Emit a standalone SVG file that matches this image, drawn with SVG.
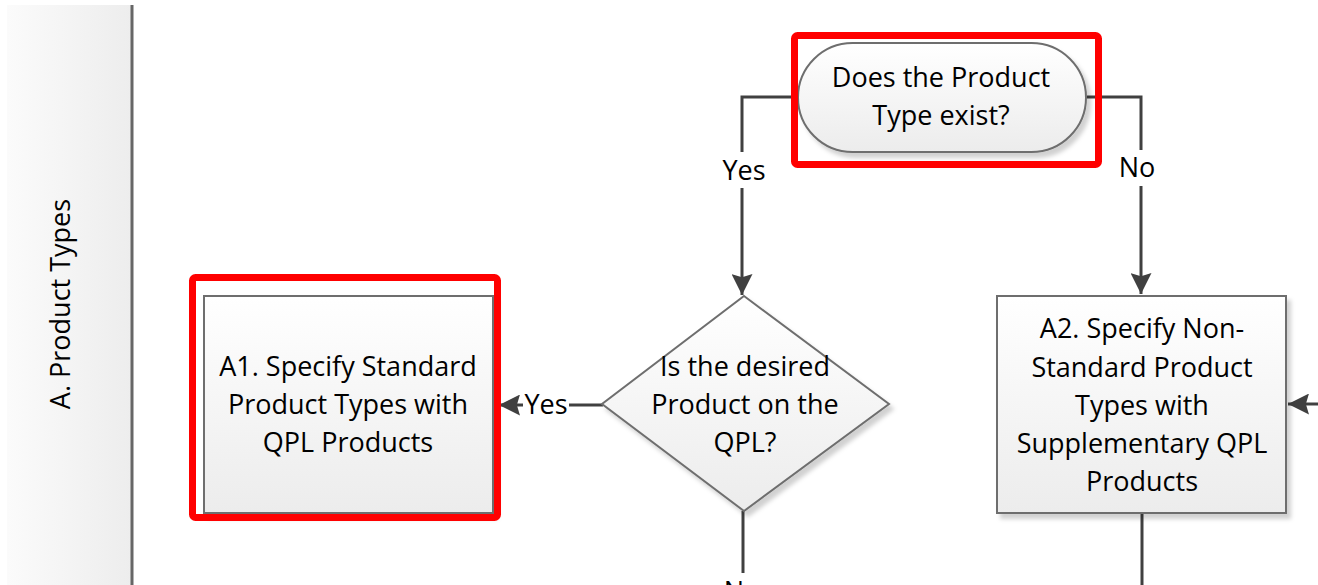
<svg xmlns="http://www.w3.org/2000/svg" width="1318" height="585" viewBox="0 0 1318 585">
<style>
text{font-family:"Open Sans","Liberation Sans",sans-serif;font-size:27px;fill:#000;text-anchor:middle}
.shape{stroke:#6e6e6e;stroke-width:2;fill:url(#gfill)}
.conn{stroke:#404040;stroke-width:3;fill:none}
.hl{fill:none;stroke:#ff0000;stroke-width:7}
.lbl{fill:#ffffff}
</style>
<defs>
<linearGradient id="gfill" x1="0" y1="0" x2="0" y2="1">
<stop offset="0" stop-color="#ffffff"/>
<stop offset="1" stop-color="#ececec"/>
</linearGradient>
<linearGradient id="glane" x1="0" y1="0" x2="1" y2="0">
<stop offset="0" stop-color="#fbfbfb"/>
<stop offset="1" stop-color="#ededed"/>
</linearGradient>
<filter id="sh" x="-10%" y="-10%" width="130%" height="130%">
<feDropShadow dx="4" dy="5" stdDeviation="2" flood-color="#000" flood-opacity="0.18"/>
</filter>
<marker id="arr" viewBox="0 0 10 10" refX="10" refY="5" markerWidth="7.5" markerHeight="7" markerUnits="strokeWidth" orient="auto">
<path d="M0,0 L10,5 L0,10 L1.5,5 Z" fill="#404040"/>
</marker>
</defs>

<g id="lane">
<rect x="7" y="5" width="125" height="580" fill="url(#glane)"/>
<line x1="132" y1="5" x2="132" y2="585" stroke="#666" stroke-width="3"/>
<text transform="translate(70,304) rotate(-90)" font-size="28">A. Product Types</text>
</g>

<g id="connectors">
<path class="conn" d="M797,97 H742 V295" marker-end="url(#arr)"/>
<path class="conn" d="M1087,97 H1141 V294" marker-end="url(#arr)"/>
<path class="conn" d="M603,405 H499" marker-end="url(#arr)"/>
<path class="conn" d="M743,511 V573"/>
<path class="conn" d="M1318,404 H1288" marker-end="url(#arr)"/>
<path class="conn" d="M1142,513 V585"/>
<rect class="lbl" x="718" y="152" width="52" height="36"/>
<text x="744" y="180">Yes</text>
<rect class="lbl" x="1116" y="150" width="44" height="36"/>
<text x="1137" y="177">No</text>
<rect class="lbl" x="523" y="390" width="46" height="30"/>
<text x="546" y="414">Yes</text>
<text x="742" y="601">No</text>
</g>

<g id="n_start">
<rect class="shape" x="798" y="43" width="288" height="109" rx="54.5" ry="54.5" filter="url(#sh)" stroke-width="1.5"/>
<text x="941" y="87">Does the Product</text>
<text x="941" y="125">Type exist?</text>
</g>

<g id="n_decision">
<polygon class="shape" points="744,296 889,404 744,511 602,404" filter="url(#sh)"/>
<text x="745" y="376">Is the desired</text>
<text x="745" y="414">Product on the</text>
<text x="745" y="452">QPL?</text>
</g>

<g id="n_a1">
<rect class="shape" x="204" y="296" width="289" height="217" filter="url(#sh)"/>
<text x="348" y="376">A1. Specify Standard</text>
<text x="348" y="414">Product Types with</text>
<text x="348" y="452">QPL Products</text>
</g>

<g id="n_a2">
<rect class="shape" x="997" y="296" width="289" height="217" filter="url(#sh)"/>
<text x="1142" y="338">A2. Specify Non-</text>
<text x="1142" y="377">Standard Product</text>
<text x="1142" y="415">Types with</text>
<text x="1142" y="453">Supplementary QPL</text>
<text x="1142" y="491">Products</text>
</g>

<g id="highlights">
<rect class="hl" x="794.5" y="35.5" width="304" height="129" rx="3"/>
<rect class="hl" x="192.5" y="277.5" width="305" height="240" rx="3"/>
</g>
</svg>
